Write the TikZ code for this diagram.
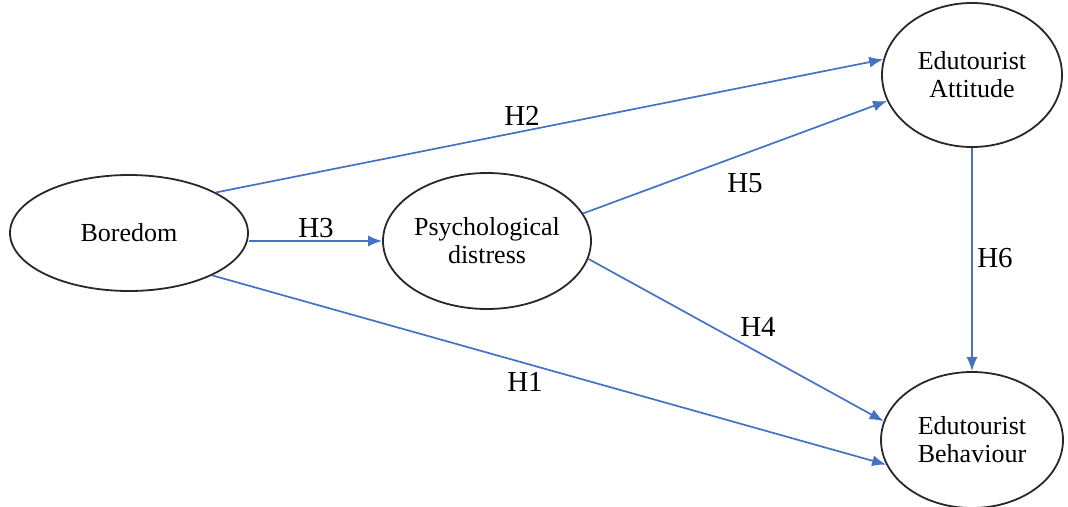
\documentclass[tikz,border=0pt]{standalone}
\usepackage{fontspec}
\setmainfont{Liberation Serif}
\usetikzlibrary{shapes.geometric,arrows.meta}
\definecolor{arrowblue}{RGB}{68,114,196}
\definecolor{edge}{RGB}{40,40,40}
\tikzset{
  latent/.style={ellipse, draw=edge, line width=1.8pt, inner sep=0pt, align=center,
    font=\fontsize{26}{28}\selectfont},
  path/.style={draw=arrowblue, line width=1.7pt, -{Latex[length=14pt,width=11pt]}},
  hyp/.style={font=\fontsize{29}{30}\selectfont, inner sep=0pt}
}
\begin{document}
\begin{tikzpicture}[x=1pt,y=-1pt]
\useasboundingbox (0,0) rectangle (1068,506);
\node[latent, minimum width=238pt, minimum height=116pt] (bor) at (129,233) {Boredom};
\node[latent, minimum width=208pt, minimum height=136pt] (psy) at (487,241) {Psychological\\distress};
\node[latent, minimum width=180pt, minimum height=144pt] (att) at (972,75) {Edutourist\\Attitude};
\node[latent, minimum width=182pt, minimum height=136pt] (beh) at (972,440) {Edutourist\\Behaviour};

\draw[path] (bor.25) -- (att.170);
\draw[path] (psy.16) -- (att.197);
\draw[path] (bor.east |- psy.west) -- (psy.west);
\draw[path] (psy.-10) -- (beh.168);
\draw[path] (bor.-27) -- (beh.196);
\draw[path] (att.south) -- (beh.north);

\node[hyp] (h2) at (522,116) {H2};
\node[hyp] (h5) at (745,183) {H5};
\node[hyp] (h3) at (316,228) {H3};
\node[hyp] (h4) at (758,327) {H4};
\node[hyp] (h1) at (525,382) {H1};
\node[hyp] (h6) at (995,258) {H6};
\end{tikzpicture}
\end{document}
